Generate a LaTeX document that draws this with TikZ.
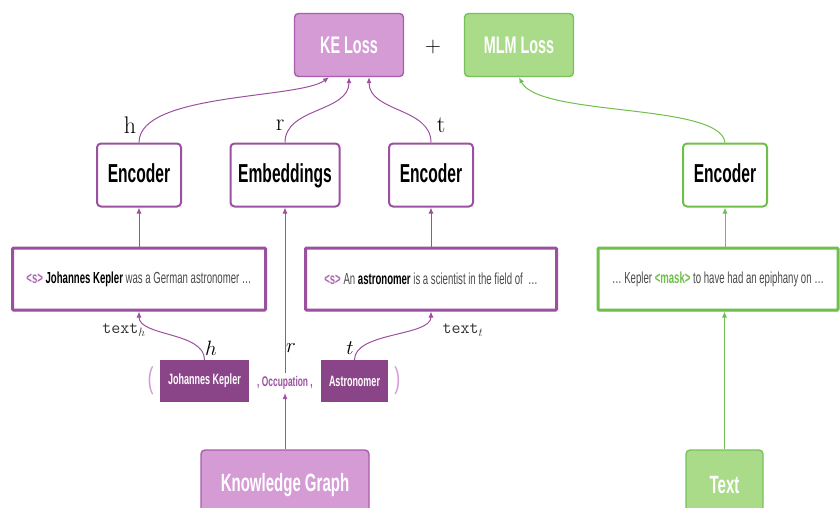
\documentclass[tikz,border=0pt]{standalone}
\usepackage{fontspec}
\setsansfont[FakeStretch=0.6]{Liberation Sans}
\usepackage{xcolor}
\usetikzlibrary{positioning, arrows.meta, shadows}
\definecolor{kelight}{HTML}{D49BD5}
\definecolor{keborder}{HTML}{A85DAD}
\definecolor{kedark}{HTML}{8A4589}
\definecolor{keline}{HTML}{9C50A0}
\definecolor{tagpurple}{HTML}{B067B5}
\definecolor{mlmlight}{HTML}{A9DB89}
\definecolor{mlmborder}{HTML}{76C159}
\definecolor{mlmline}{HTML}{6FBF4B}
\definecolor{sentgray}{HTML}{4A4A4A}

\begin{document}
\begin{tikzpicture}[x=1pt, y=-1pt,
    lossbox/.style={draw, line width=1.4pt, rounded corners=4pt, minimum width=109pt,
      minimum height=63pt, text=white, font=\sffamily\bfseries\fontsize{24}{28}\selectfont},
    encbox/.style={draw, line width=2pt, rounded corners=4pt, fill=white, minimum width=84pt,
      minimum height=63pt, text height=19pt, text depth=5pt,
      font=\sffamily\bfseries\fontsize{26}{30}\selectfont},
    sentbox/.style={draw, line width=3pt, rounded corners=1pt, fill=white, minimum height=62pt,
      text=sentgray, font=\sffamily\fontsize{16}{19}\selectfont,
      drop shadow={opacity=0.2, shadow xshift=1pt, shadow yshift=-1.5pt}},
    entbox/.style={fill=kedark, minimum width=89pt, minimum height=42pt, text=white,
      font=\sffamily\bfseries\fontsize{15}{18}\selectfont},
    srcbox/.style={draw, line width=1.4pt, rounded corners=4pt, minimum height=70pt,
      text=white, font=\sffamily\bfseries\fontsize{25}{28}\selectfont},
    paren/.style={text=kelight, inner sep=0pt, font=\sffamily\fontsize{30}{32}\selectfont},
    toplabel/.style={font=\fontsize{24}{26}\selectfont},
    mathlabel/.style={font=\fontsize{20}{22}\selectfont},
    sublabel/.style={text=black!80, font=\fontsize{17.5}{19}\selectfont},
    arr/.style={-{Latex[length=6pt, width=5pt]}, line width=1pt}
  ]
  \clip (0,0) rectangle (840,508);

  % losses
  \node[lossbox, fill=kelight, draw=keborder] (keloss) at (349,45) {KE Loss};
  \node[font=\fontsize{22}{24}\selectfont] (plus) at (433,47) {+};
  \node[lossbox, fill=mlmlight, draw=mlmborder] (mlmloss) at (519,45) {MLM Loss};

  % encoders
  \node[encbox, draw=keline] (headenc) at (139,175) {Encoder};
  \node[encbox, draw=keline, minimum width=109pt] (relemb) at (285,175) {Embeddings};
  \node[encbox, draw=keline] (tailenc) at (431,175) {Encoder};
  \node[encbox, draw=mlmline] (mlmenc) at (725,175) {Encoder};

  % descriptions
  \node[sentbox, draw=keline, minimum width=253pt] (headtext) at (139,279)
    {{\color{tagpurple}\bfseries <s>} {\bfseries\color{black}Johannes Kepler} was a German astronomer \dots};
  \node[sentbox, draw=keline, minimum width=251pt] (tailtext) at (431,279)
    {{\color{tagpurple}\bfseries <s>} An {\bfseries\color{black}astronomer} is a scientist in the field of \ \dots};
  \node[sentbox, draw=mlmline, minimum width=240pt] (mlmtext) at (718,279)
    {\dots\ Kepler {\color{mlmline}\bfseries <mask>} to have had an epiphany on \dots};

  % triple
  \node[entbox] (headent) at (204.5,381) {Johannes Kepler};
  \node[text=keline, font=\sffamily\bfseries\fontsize{14}{16}\selectfont] (relent) at (285,383) {, Occupation ,};
  \node[entbox, minimum width=67pt] (tailent) at (354.5,381) {Astronomer};
  \node[paren, left=6pt of headent] (lparen) {(};
  \node[paren, right=6pt of tailent] (rparen) {)};

  % sources
  \node[srcbox, fill=kelight, draw=keborder, minimum width=168pt] (kg) at (285,485) {Knowledge Graph};
  \node[srcbox, fill=mlmlight, draw=mlmborder, minimum width=77pt] (txt) at (724.5,485) {Text};

  % labels
  \node[toplabel] (hlab) at (130,125) {h};
  \node[toplabel] (rlab) at (280,125) {r};
  \node[toplabel] (tlab) at (441,125) {t};
  \node[sublabel] (texth) at (124,330) {\texttt{text}$_h$};
  \node[sublabel] (textt) at (463,330) {\texttt{text}$_t$};
  \node[mathlabel] (hvar) at (211,348) {$h$};
  \node[mathlabel] (rvar) at (291,348) {$r$};
  \node[mathlabel] (tvar) at (350,348) {$t$};

  % connectors
  \draw[keline, arr] (headenc.north) .. controls +(0,-50) and +(-30,22) .. ([xshift=-20pt]keloss.south);
  \draw[keline, arr] (relemb.north) .. controls +(0,-35) and +(0,35) .. (keloss.south);
  \draw[keline, arr] (tailenc.north) .. controls +(0,-35) and +(0,35) .. ([xshift=20pt]keloss.south);
  \draw[mlmline, arr] (mlmenc.north) .. controls +(-5,-40) and +(20,40) .. (mlmloss.south);
  \draw[keline, arr] (headtext) -- (headenc);
  \draw[keline, arr] (tailtext) -- (tailenc);
  \draw[mlmline, arr] (mlmenc |- mlmtext.north) -- (mlmenc.south);
  \draw[keline, arr] (relent.north) -- (relemb.south);
  \draw[keline, arr] (kg) -- (relent);
  \draw[mlmline, arr] (txt) -- (txt |- mlmtext.south);
  \draw[keline, arr] (headent.north) .. controls +(0,-28) and +(0,25) .. (headtext.south);
  \draw[keline, arr] (tailent.north) .. controls +(0,-28) and +(0,25) .. (tailtext.south);
\end{tikzpicture}
\end{document}
